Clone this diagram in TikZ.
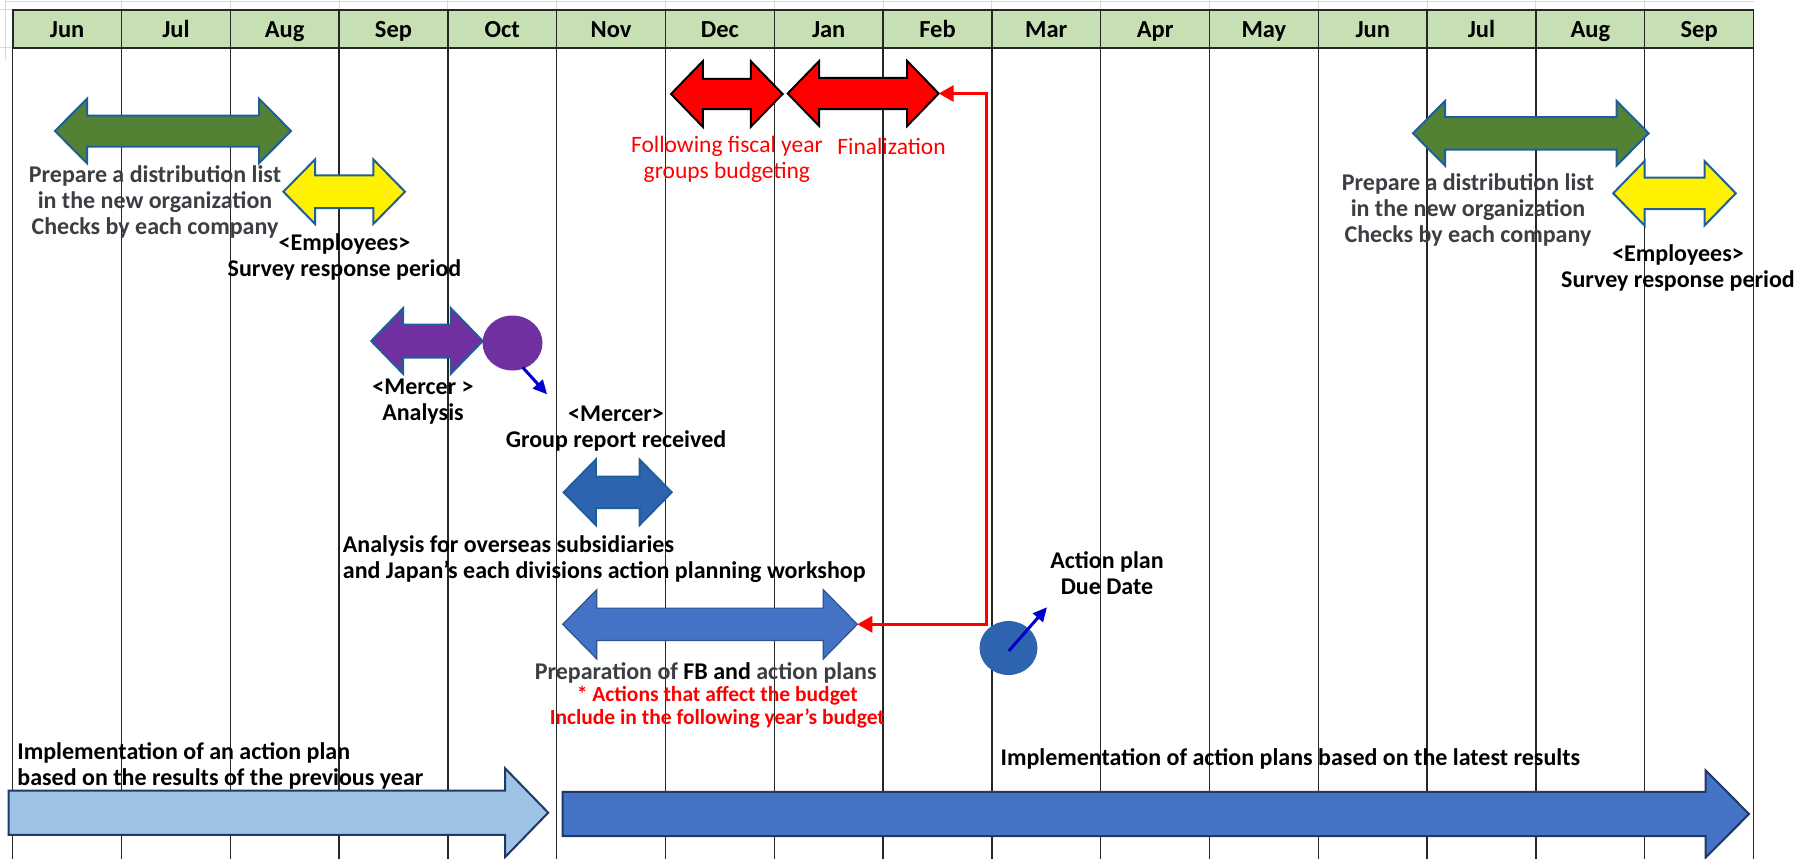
\documentclass[tikz,border=0pt]{standalone}
\usepackage{fontspec}
\setmainfont{Carlito}
\usetikzlibrary{arrows.meta,shapes.geometric}
\definecolor{hdr}{HTML}{C6E0B4}
\definecolor{gridc}{HTML}{262626}
\definecolor{faintc}{HTML}{D9D9D9}
\definecolor{arrbord}{HTML}{1F5F99}
\definecolor{dkgreen}{HTML}{548235}
\definecolor{purp}{HTML}{7030A0}
\definecolor{midblue}{HTML}{2E64AF}
\definecolor{fbblue}{HTML}{4472C4}
\definecolor{fbbord}{HTML}{2F528F}
\definecolor{ltblue}{HTML}{9DC3E6}
\definecolor{navy}{HTML}{203864}
\definecolor{ptrblue}{HTML}{0000CC}
\definecolor{txtgrey}{HTML}{3B3E43}
% #1 style, #2 name, #3 x1, #4 x2, #5 yc, #6 half shaft, #7 half head, #8 head length
\newcommand\dblarrow[8]{%
  \draw[#1] (#3,#5) -- ({#3+#8},{#5-#7}) -- ({#3+#8},{#5-#6}) -- ({#4-#8},{#5-#6})
    -- ({#4-#8},{#5-#7}) -- (#4,#5) -- ({#4-#8},{#5+#7}) -- ({#4-#8},{#5+#6})
    -- ({#3+#8},{#5+#6}) -- ({#3+#8},{#5+#7}) -- cycle;
  \coordinate (#2-l) at (#3,#5);
  \coordinate (#2-r) at (#4,#5);}
\newcommand\sglarrow[8]{%
  \draw[#1] (#3,{#5-#6}) -- ({#4-#8},{#5-#6}) -- ({#4-#8},{#5-#7}) -- (#4,#5)
    -- ({#4-#8},{#5+#7}) -- ({#4-#8},{#5+#6}) -- (#3,{#5+#6}) -- cycle;
  \coordinate (#2-tip) at (#4,#5);}
\tikzset{
  gridline/.style={draw=gridc, line width=1.4pt},
  faint/.style={draw=faintc, line width=1pt},
  hdrbox/.style={fill=hdr, draw=gridc, line width=1.6pt},
  month/.style={anchor=base, font=\bfseries\fontsize{24.5}{28}\selectfont, inner sep=0pt},
  lbl/.style={font=\bfseries\fontsize{24}{26}\selectfont, align=center, inner sep=0pt},
  greylbl/.style={lbl, text=txtgrey},
  redlbl/.style={font=\fontsize{23.5}{26}\selectfont, text=red, align=center, inner sep=0pt},
  redsmall/.style={font=\bfseries\fontsize{21.5}{22.7}\selectfont, text=red, align=center, inner sep=0pt},
  arrblue/.style={draw=arrbord, line width=2pt},
  greenarr/.style={arrblue, fill=dkgreen},
  yellowarr/.style={arrblue, fill=yellow},
  redarr/.style={draw=black, line width=2pt, fill=red},
  purparr/.style={arrblue, fill=purp},
  midarr/.style={arrblue, fill=midblue},
  fbarr/.style={draw=fbbord, line width=1.2pt, fill=fbblue},
  ltarr/.style={draw=navy, line width=2pt, fill=ltblue},
  dkarr/.style={draw=navy, line width=2pt, fill=fbblue},
  ptr/.style={draw=ptrblue, line width=3pt, -{Triangle[length=14pt,width=13pt]}},
  redconn/.style={draw=red, line width=3.3pt, {Triangle[length=15pt,width=16pt]}-{Triangle[length=15pt,width=16pt]}},
}
\begin{document}
\begin{tikzpicture}[x=1pt,y=-1pt,line join=miter]
\useasboundingbox (0,0) rectangle (1810,859);
\fill[white] (0,0) rectangle (1810,859);
% faint spreadsheet lines
\draw[faint] (5,2) -- (1754,2);
\draw[faint] (5,0) -- (5,60);
\draw[faint] (0,10) -- (12.7,10);
\draw[faint] (0,48) -- (12.7,48);
\foreach \i in {1,...,15} \draw[faint] ({12.7+108.8*\i},0) -- ({12.7+108.8*\i},10);
% header
\draw[hdrbox] (12.7,10) rectangle (1753.5,48);
\foreach \i in {0,...,16} \draw[gridline] ({12.7+108.8*\i},10) -- ({12.7+108.8*\i},859);
\draw[gridc, line width=1.6pt] (12.7,10) -- (1753.5,10) (12.7,48) -- (1753.5,48);
\foreach \m [count=\i from 0] in {Jun,Jul,Aug,Sep,Oct,Nov,Dec,Jan,Feb,Mar,Apr,May,Jun,Jul,Aug,Sep}
  \node[month] (m\i) at ({67.1+108.8*\i},38) {\m};
% double arrows
\dblarrow{greenarr}{g1}{55}{291}{131}{15.5}{32.3}{32}
\dblarrow{yellowarr}{y1}{283.4}{405}{191.7}{16.3}{32.2}{31.6}
\dblarrow{redarr}{r1}{671}{782.6}{94}{15}{32.8}{31.8}
\dblarrow{redarr}{r2}{787.7}{938.7}{93.5}{15.5}{32.5}{31.5}
\dblarrow{purparr}{pu}{371.2}{482.7}{341}{16.5}{32.7}{31.8}
\dblarrow{midarr}{mb}{563.7}{671.7}{492.3}{15.8}{32.8}{32.2}
\dblarrow{fbarr}{fb}{562.7}{857.3}{624.3}{16.2}{34.6}{34}
\dblarrow{greenarr}{g2}{1413}{1648.6}{133.3}{16.3}{32.3}{32}
\dblarrow{yellowarr}{y2}{1613.2}{1735.8}{193.3}{15.8}{32.2}{31.3}
% single arrows
\sglarrow{ltarr}{lt}{8.6}{548.2}{812.7}{22.2}{44.5}{43.2}
\sglarrow{dkarr}{dk}{562.6}{1749}{814}{22.2}{43.7}{43.4}
% circles
\node[ellipse, fill=purp, minimum width=60pt, minimum height=55pt, inner sep=0pt] (pc) at (512.5,343) {};
\node[ellipse, fill=midblue, minimum width=58pt, minimum height=54pt, inner sep=0pt] (bc) at (1008.5,648) {};
\coordinate (pa-start) at (522.6,367.3);
\coordinate (pa-end) at (547.1,394.3);
\coordinate (ba-start) at (1008.8,651);
\coordinate (ba-end) at (1047,607.3);
\draw[ptr] (pa-start) -- (pa-end);
\draw[ptr] (ba-start) -- (ba-end);
% red connector
\coordinate (vx) at (986.5,0);
\draw[redconn] (fb-r) -- (fb-r -| vx) -- (r2-r -| vx) -- (r2-r);
% labels
\node[greylbl] (t1) at (155,202) {Prepare a distribution list\\in the new organization\\Checks by each company};
\node[lbl] (t2) at (344.5,257.3) {<Employees>\\Survey response period};
\node[redlbl] (t3) at (726.9,159.7) {Following fiscal year\\groups budgeting};
\node[redlbl] (t4) at (891.5,146.7) {Finalization};
\node[lbl] (t5) at (423,401.3) {<Mercer >\\Analysis};
\node[lbl] (t6) at (616,429) {<Mercer>\\Group report received};
\node[lbl, anchor=west, align=left] (t7) at (342.7,559.3) {Analysis for overseas subsidiaries\\and Japan's each divisions action planning workshop};
\node[lbl] (t8) at (1107,573) {Action plan\\Due Date};
\node[lbl] (t9) at (705.7,672.7) {\textcolor{txtgrey}{Preparation of} FB and \textcolor{txtgrey}{action plans}};
\node[redsmall] (t10) at (717.3,707.3) {* Actions that affect the budget\\Include in the following year{\char"0027}s budget};
\node[lbl, anchor=west, align=left] (t11) at (17.2,766) {Implementation of an action plan\\based on the results of the previous year};
\node[lbl, anchor=west] (t12) at (1000.4,759.3) {Implementation of action plans based on the latest results};
\node[greylbl] (t13) at (1468,209.6) {Prepare a distribution list\\in the new organization\\Checks by each company};
\node[lbl] (t14) at (1678,267.7) {<Employees>\\Survey response period};
\end{tikzpicture}
\end{document}
